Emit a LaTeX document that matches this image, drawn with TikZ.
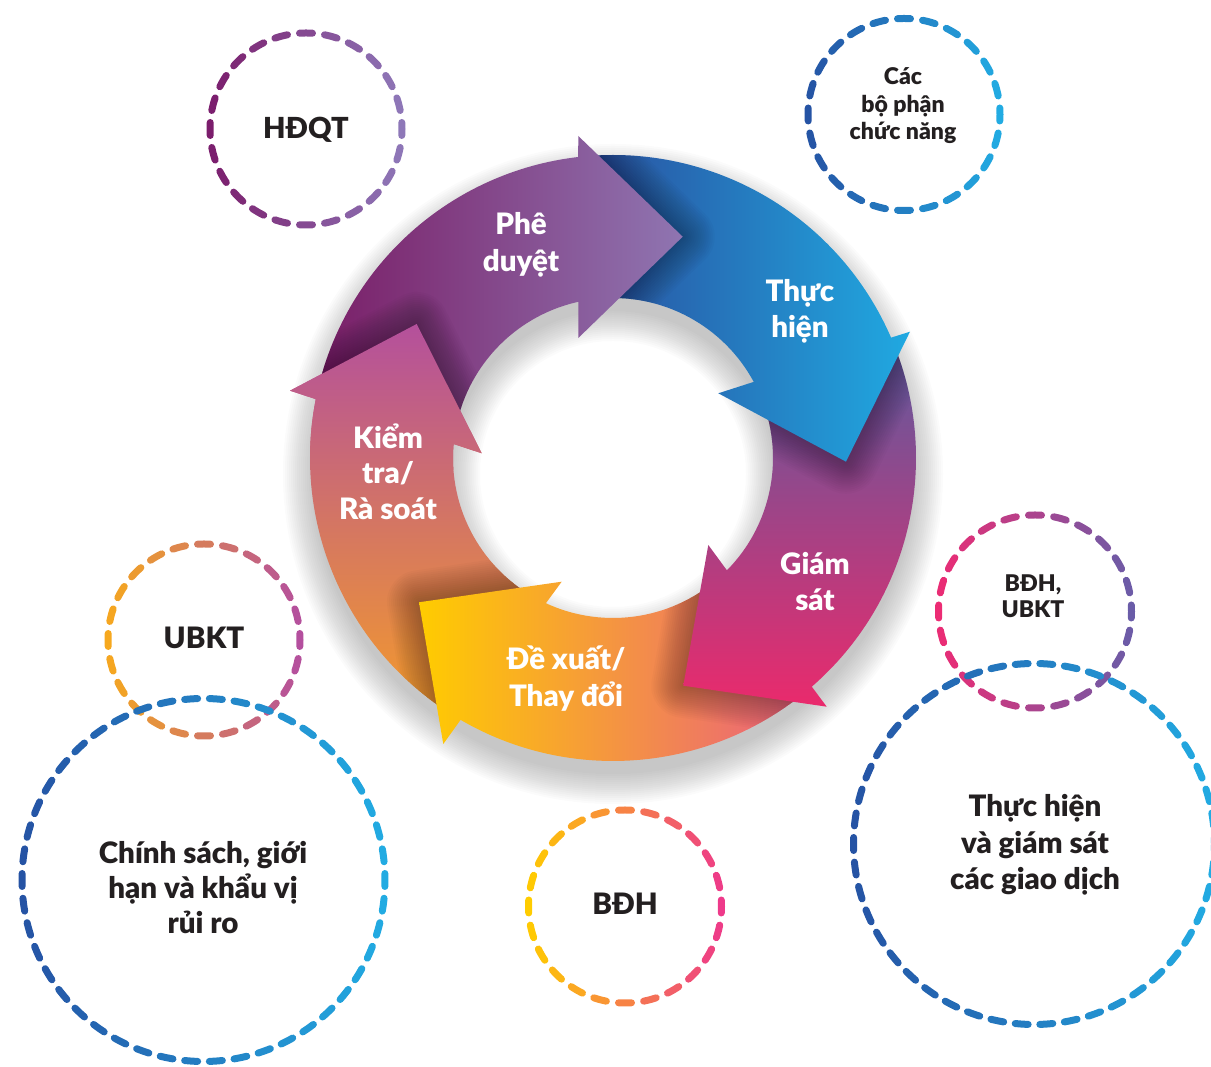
\documentclass[tikz,border=0pt]{standalone}
\usepackage{fontspec}
\setmainfont{Lato Black}
\usetikzlibrary{calc}

% text and ring colours
\definecolor{ink}{HTML}{231F20}
\definecolor{pdL}{HTML}{7A1E67}
\definecolor{pdR}{HTML}{8F75B1}
\definecolor{thL}{HTML}{2A4F9F}
\definecolor{thR}{HTML}{20A9E1}
\definecolor{gsT}{HTML}{5F5A9E}
\definecolor{gsB}{HTML}{EA2A6C}
\definecolor{dxL}{HTML}{FFCC00}
\definecolor{dxR}{HTML}{EA5F80}
\definecolor{ktT}{HTML}{B4509C}
\definecolor{ktB}{HTML}{F39A2C}
% dashed circle colours (left / right)
\definecolor{hdqtL}{HTML}{7B1D6C}
\definecolor{hdqtR}{HTML}{8E78B8}
\definecolor{blueL}{HTML}{2553A4}
\definecolor{blueR}{HTML}{22ABE2}
\definecolor{bduL}{HTML}{EC2C74}
\definecolor{bduR}{HTML}{6A5CA8}
\definecolor{ubktL}{HTML}{F6A81E}
\definecolor{ubktR}{HTML}{B44F9E}
\definecolor{bdhL}{HTML}{FFCC00}
\definecolor{bdhR}{HTML}{EE3A8A}

\tikzset{
  dashstroke/.style={line width=7pt, line cap=round},
  ringtext/.style={text=white, font=\fontsize{29.5}{34}\selectfont, anchor=base, inner sep=0pt},
  bigtext/.style={text=ink, font=\fontsize{29.5}{34}\selectfont, anchor=base, inner sep=0pt},
  titletext/.style={text=ink, font=\fontsize{29}{36}\selectfont, anchor=base, inner sep=0pt},
  smalltext/.style={text=ink, font=\fontsize{23}{28}\selectfont, anchor=base, inner sep=0pt},
  headshade/.style={black, opacity=0.021, line join=round},
}

% dashed circle whose colour runs from left to right
% #1 name, #2 centre, #3 radius, #4 number of dashes, #5 left colour, #6 right colour
\newcommand{\gradring}[6]{%
  \coordinate (#1) at #2;
  \pgfmathsetmacro{\dasharc}{13/#3*180/pi}%
  \pgfmathsetmacro{\dashstep}{360/#4}%
  \foreach \k in {1,...,#4}{%
    \pgfmathsetmacro{\ang}{\dashstep*\k - \dasharc/2}%
    \pgfmathtruncatemacro{\mix}{round(50+50*cos(\ang+\dasharc/2))}%
    \draw[dashstroke, #6!\mix!#5] ($(#1)+(\ang:#3)$) arc[start angle=\ang, delta angle=\dasharc, radius=#3];
  }%
}

% the five curved arrows of the cycle (centre of the ring at the origin)
\newcommand{\pathPD}{(166.8:303) arc[start angle=166.8, end angle=96.6, radius=303] -- (-34.7,322) -- (69.7,221.3) -- (-34.7,120) -- (102.5:160) arc[start angle=102.5, end angle=173, radius=160] -- cycle}
\newcommand{\pathTH}{(94.6:303) arc[start angle=94.6, end angle=23.4, radius=303] -- (297,126.3) -- (233,-3.7) -- (105.3,64.7) -- (28.4:160) arc[start angle=28.4, end angle=100.5, radius=160] -- cycle}
\newcommand{\pathGS}{(21.4:303) arc[start angle=21.4, end angle=-49, radius=303] -- (213.7,-248.7) -- (70.3,-227.7) -- (95.3,-87) -- (-44.6:160) arc[start angle=-44.6, end angle=26.4, radius=160] -- cycle}
\newcommand{\pathDX}{(-51:303) arc[start angle=-51, end angle=-120.2, radius=303] -- (-169.7,-286) -- (-194,-144.3) -- (-51.3,-123.7) -- (-114.8:160) arc[start angle=-114.8, end angle=-46.6, radius=160] -- cycle}
\newcommand{\pathKT}{(-122.2:303) arc[start angle=-122.2, end angle=-191.2, radius=303] -- (-323,67.3) -- (-196.3,134) -- (-131.3,4.7) -- (-185:160) arc[start angle=-185, end angle=-116.8, radius=160] -- cycle}
% arrow heads, used for their soft shadows
\newcommand{\headPD}{(-34.7,322) -- (69.7,221.3) -- (-34.7,120) -- cycle}
\newcommand{\headTH}{(297,126.3) -- (233,-3.7) -- (105.3,64.7) -- cycle}
\newcommand{\headGS}{(213.7,-248.7) -- (70.3,-227.7) -- (95.3,-87) -- cycle}
\newcommand{\headDX}{(-169.7,-286) -- (-194,-144.3) -- (-51.3,-123.7) -- cycle}
\newcommand{\headKT}{(-323,67.3) -- (-196.3,134) -- (-131.3,4.7) -- cycle}
% soft shadow of a head, kept inside the arrow lying under it
\newcommand{\headshadow}[2]{%
  \begin{scope}
    \clip #2;
    \foreach \w in {4,8,...,64} {\draw[headshade, line width=\w] #1;}
  \end{scope}}

\begin{document}
\begin{tikzpicture}[x=1pt, y=1pt]
\useasboundingbox (0,0) rectangle (1211,1067);

% ---- dashed circles ----
\gradring{cHDQT}{(306,938)}{96}{24}{hdqtL}{hdqtR}
\gradring{cCBP}{(904,952.5)}{96}{24}{blueL}{blueR}
\gradring{cBDU}{(1035,455.5)}{96.5}{24}{bduL}{bduR}
\gradring{cUBKT}{(204,427)}{96}{24}{ubktL}{ubktR}
\gradring{cBDH}{(625,160.5)}{96.5}{24}{bdhL}{bdhR}
\gradring{cCS}{(203.5,187)}{181.5}{46}{blueL}{blueR}
\gradring{cTH}{(1034,223)}{180.5}{46}{blueL}{blueR}

% ---- cycle ----
\begin{scope}[shift={(613,609)}]
  % soft shadow under the ring
  \foreach \s in {0,2,...,30}
    \fill[black, opacity=0.015, even odd rule] (0,-16) circle[radius=300+\s] (0,-16) circle[radius=163-\s];

  \path[top color=ktT, bottom color=ktB] \pathKT;
  \headshadow{\headDX}{\pathKT}
  \path[left color=dxL, right color=dxR] \pathDX;
  \headshadow{\headGS}{\pathDX}
  \path[top color=gsT, bottom color=gsB] \pathGS;
  \headshadow{\headTH}{\pathGS}
  \path[left color=thL, right color=thR] \pathTH;
  \headshadow{\headPD}{\pathTH}
  \path[left color=pdL, right color=pdR] \pathPD;
  \headshadow{\headKT}{\pathPD}
  % the head of the last arrow lies over the first one
  \begin{scope}
    \clip (-333,-12) rectangle (-113,148);
    \path[top color=ktT, bottom color=ktB] \pathKT;
  \end{scope}
\end{scope}

% ---- labels on the cycle ----
\node[ringtext] (pd1) at (521,832) {Phê};
\node[ringtext] (pd2) at (521,795) {duyệt};
\node[ringtext] (th1) at (800,765) {Thực};
\node[ringtext] (th2) at (800,729) {hiện};
\node[ringtext] (gs1) at (815,492.7) {Giám};
\node[ringtext] (gs2) at (815,456.3) {sát};
\node[ringtext] (dx1) at (566,397) {Đề xuất/};
\node[ringtext] (dx2) at (566,360.3) {Thay đổi};
\node[ringtext] (kt1) at (388,618.7) {Kiểm};
\node[ringtext] (kt2) at (388,583.7) {tra/};
\node[ringtext] (kt3) at (388,547.5) {Rà soát};

% ---- labels in the circles ----
\node[titletext] (lHDQT) at (306,928.7) {HĐQT};
\node[smalltext] (lCBP1) at (903,982) {Các};
\node[smalltext] (lCBP2) at (903,954.5) {bộ phận};
\node[smalltext] (lCBP3) at (903,927) {chức năng};
\node[smalltext] (lBDU1) at (1033,475.3) {BĐH,};
\node[smalltext] (lBDU2) at (1033,449.3) {UBKT};
\node[bigtext] (lUBKT) at (204,418.7) {UBKT};
\node[bigtext] (lCS1) at (203,203.7) {Chính sách, giới};
\node[bigtext] (lCS2) at (203,168.7) {hạn và khẩu vị};
\node[bigtext] (lCS3) at (203,133) {rủi ro};
\node[bigtext] (lTH1) at (1035,250.3) {Thực hiện};
\node[bigtext] (lTH2) at (1035,213.7) {và giám sát};
\node[bigtext] (lTH3) at (1035,177) {các giao dịch};
\node[bigtext] (lBDH) at (625,152) {BĐH};
\end{tikzpicture}
\end{document}
